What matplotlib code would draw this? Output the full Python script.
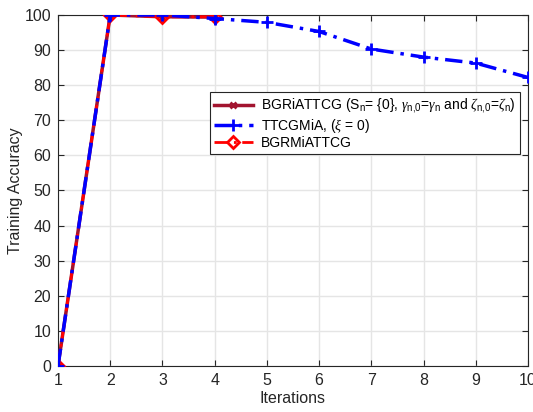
import matplotlib
matplotlib.use("Agg")
import matplotlib.pyplot as plt

plt.rcParams['font.family'] = ['Liberation Sans', 'DejaVu Sans']
plt.rcParams['mathtext.fontset'] = 'custom'
plt.rcParams['mathtext.rm'] = 'Liberation Sans'
plt.rcParams['mathtext.it'] = 'Liberation Serif:italic'

iters_a = [1, 2, 3, 4]
bgri = [0, 100, 99.5, 99.4]
iters_b = [1, 2, 3, 4, 5, 6, 7, 8, 9, 10]
ttcg = [0, 100, 100, 99.0, 97.9, 95.3, 90.3, 88.0, 86.3, 82.2]
bgrm = [0, 100, 99.5, 99.5]

labels = [r"BGRiATTCG (S$_{\mathrm{n}}$= {0}, $\gamma_{\mathrm{n{,}0}}$=$\gamma_{\mathrm{n}}$ and $\zeta_{\mathrm{n{,}0}}$=$\zeta_{\mathrm{n}}$)",
          r"TTCGMiA, ($\xi$ = 0)",
          "BGRMiATTCG"]

fig = plt.figure(figsize=(5.33, 4.12), dpi=100)
ax = fig.add_axes([0.1088, 0.1117, 0.8818, 0.8519])

ax.plot(iters_a, bgri, color='#A2142F', lw=2.5, marker='x', ms=5, mew=2, label=labels[0], zorder=3)
ax.plot(iters_b, ttcg, color='#0000FF', lw=2.5, ls=(0, (5, 2, 1, 2)), marker='+', ms=8, mew=2, label=labels[1], zorder=5)
ax.plot(iters_a, bgrm, color='#FF0000', lw=2, ls=(0, (5, 2, 1, 2)), marker='D', ms=6, mew=2, mfc='none', label=labels[2], zorder=4)

ax.set_xlim(1, 10)
ax.set_ylim(0, 100)
ax.set_xticks(range(1, 11))
ax.set_yticks(range(0, 101, 10))
ax.grid(True, color='#E5E5E5', lw=1)
ax.set_axisbelow(True)
ax.tick_params(direction='in', top=True, right=True, labelsize=11.5, colors='#262626', length=4, pad=5)
for s in ax.spines.values():
    s.set_color('#262626')
    s.set_linewidth(0.8)
ax.set_xlabel("Iterations", fontsize=11.5, color='#262626', labelpad=2)
ax.set_ylabel("Training Accuracy", fontsize=11.5, color='#262626', labelpad=1)

leg = ax.legend(loc='upper left', bbox_to_anchor=(0.308, 0.799), fontsize=10, frameon=True,
                fancybox=False, edgecolor='#262626', handlelength=2.8, borderpad=0.3,
                labelspacing=0.1, handletextpad=0.6, framealpha=1)
leg.get_frame().set_linewidth(0.8)

fig.savefig("out.png", dpi=100)
